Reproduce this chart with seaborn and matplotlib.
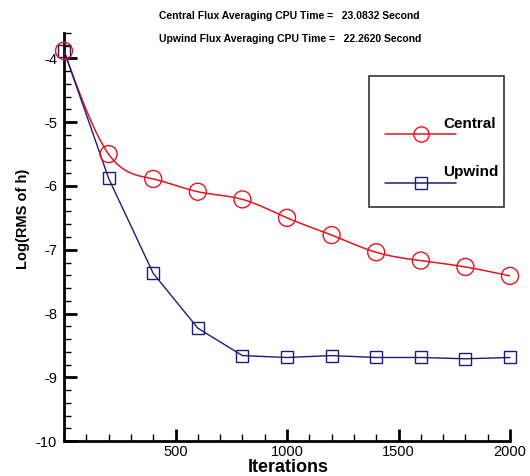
import numpy as np
import pandas as pd
import matplotlib
matplotlib.use("Agg")
import matplotlib.pyplot as plt
from matplotlib.ticker import MultipleLocator, FixedLocator
from matplotlib.patches import Rectangle
from matplotlib.lines import Line2D
import seaborn as sns

# Convergence history: log10 of the RMS residual of h versus iteration count
iterations = [0, 200, 400, 600, 800, 1000, 1200, 1400, 1600, 1800, 2000]
central_log_rms = [-3.88, -5.50, -5.89, -6.09, -6.21, -6.50, -6.77, -7.04, -7.17, -7.27, -7.41]
upwind_log_rms = [-3.88, -5.88, -7.37, -8.23, -8.66, -8.69, -8.66, -8.69, -8.69, -8.71, -8.69]

series_names = ["Central", "Upwind"]
cpu_times = ["23.0832", "22.2620"]

x_major_ticks = [500, 1000, 1500, 2000]
y_major_ticks = [-10, -9, -8, -7, -6, -5, -4]

RED = "#e8141c"
NAVY = "#1c1c78"


def smooth_curve(x, y, n=400):
    """Natural cubic spline through the given points, for drawing a smooth line."""
    x = np.asarray(x, float)
    y = np.asarray(y, float)
    k = len(x)
    h = np.diff(x)
    A = np.zeros((k, k))
    b = np.zeros(k)
    A[0, 0] = A[-1, -1] = 1.0
    for i in range(1, k - 1):
        A[i, i - 1] = h[i - 1]
        A[i, i] = 2 * (h[i - 1] + h[i])
        A[i, i + 1] = h[i]
        b[i] = 3 * ((y[i + 1] - y[i]) / h[i] - (y[i] - y[i - 1]) / h[i - 1])
    c = np.linalg.solve(A, b)
    xs = np.linspace(x[0], x[-1], n)
    idx = np.clip(np.searchsorted(x, xs, side="right") - 1, 0, k - 2)
    dx = xs - x[idx]
    bb = (y[idx + 1] - y[idx]) / h[idx] - h[idx] * (2 * c[idx] + c[idx + 1]) / 3
    dd = (c[idx + 1] - c[idx]) / (3 * h[idx])
    ys = y[idx] + bb * dx + c[idx] * dx ** 2 + dd * dx ** 3
    return xs, ys


sns.set_theme(style="ticks")
plt.rcParams["font.family"] = ["Liberation Sans", "DejaVu Sans"]
plt.rcParams["text.color"] = "black"
plt.rcParams["axes.labelcolor"] = "black"
plt.rcParams["xtick.color"] = "black"
plt.rcParams["ytick.color"] = "black"

fig = plt.figure(figsize=(5.30, 4.76), dpi=100)
ax = fig.add_axes([0.1208, 0.0735, 0.8415, 0.8572])

df = pd.DataFrame({"Iterations": iterations,
                   "Central": central_log_rms,
                   "Upwind": upwind_log_rms})

# Central scheme: smooth curve with open circles
xs, ys = smooth_curve(df["Iterations"], df["Central"])
sns.lineplot(x=xs, y=ys, ax=ax, color=RED, linewidth=1.1, zorder=3)
sns.scatterplot(data=df, x="Iterations", y="Central", ax=ax, marker="o", s=150,
                facecolor="none", edgecolor=RED, linewidth=1.0, zorder=4, clip_on=False)

# Upwind scheme: straight segments with open squares
sns.lineplot(data=df, x="Iterations", y="Upwind", ax=ax, color=NAVY, linewidth=1.0,
             marker="s", markersize=9, markerfacecolor="none", markeredgecolor=NAVY,
             markeredgewidth=1.0, zorder=3, clip_on=False)

ax.set_xlim(0, 2000)
ax.set_ylim(-10, -3.6)

ax.xaxis.set_major_locator(FixedLocator(x_major_ticks))
ax.xaxis.set_minor_locator(MultipleLocator(100))
ax.yaxis.set_major_locator(FixedLocator(y_major_ticks))
ax.yaxis.set_minor_locator(MultipleLocator(0.2))
ax.set_yticklabels([str(v) for v in y_major_ticks])

for side in ("top", "right"):
    ax.spines[side].set_visible(False)
for side in ("left", "bottom"):
    ax.spines[side].set_linewidth(2.0)
    ax.spines[side].set_color("black")

ax.tick_params(axis="both", which="major", direction="in", length=9, width=2.0,
               color="black", labelsize=10.5, labelcolor="black")
ax.tick_params(axis="y", which="major", pad=5)
ax.tick_params(axis="x", which="major", pad=3)
ax.tick_params(axis="both", which="minor", direction="in", length=5, width=1.0, color="black")

ax.set_xlabel("Iterations", fontsize=13, fontweight="bold", color="black")
ax.xaxis.set_label_coords(0.503, -0.064)
ax.xaxis.label.set_va("center")
ax.set_ylabel("Log(RMS of h)", fontsize=10.5, fontweight="bold", color="black")
ax.yaxis.set_label_coords(-0.093, 0.545)
ax.yaxis.label.set_va("center")

# CPU time annotations above the plot
for i, (name, t) in enumerate(zip(series_names, cpu_times)):
    fig.text(0.30, 1 - (16 + 23 * i) / 476,
             f"{name} Flux Averaging CPU Time =   {t} Second",
             fontsize=7.5, fontweight="bold", ha="left", va="center", color="black")

# Framed legend in the upper right corner
ax.add_patch(Rectangle((0.684, 0.5735), 0.302, 0.3215, transform=ax.transAxes,
                       facecolor="white", edgecolor="#333333", linewidth=1.2,
                       zorder=5, clip_on=False))
legend_rows = [(0.752, 0.777, RED, "o", 11, "Central"),
               (0.633, 0.659, NAVY, "s", 9, "Upwind")]
for y_line, y_text, col, mk, ms, label in legend_rows:
    ax.add_line(Line2D([0.719, 0.880], [y_line, y_line], transform=ax.transAxes,
                       color=col, linewidth=1.1, zorder=6))
    ax.add_line(Line2D([0.800], [y_line], transform=ax.transAxes, color=col,
                       marker=mk, markersize=ms, markerfacecolor="none",
                       markeredgecolor=col, markeredgewidth=1.0, zorder=7))
    ax.text(0.850, y_text, label, transform=ax.transAxes, fontsize=11,
            fontweight="bold", ha="left", va="center", zorder=8, color="black")

fig.savefig("out.png", dpi=100)
